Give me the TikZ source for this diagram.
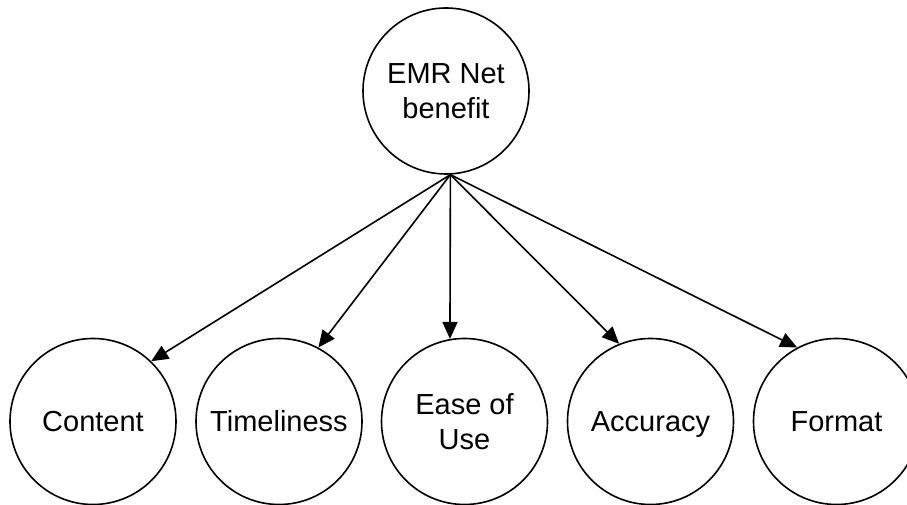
\documentclass[tikz,border=0pt]{standalone}
\usepackage{fontspec}
\setmainfont{Liberation Sans}
\usetikzlibrary{arrows.meta}
\begin{document}
\begin{tikzpicture}[x=1bp,y=1bp,
  circ/.style={circle,draw,line width=1.6bp,minimum size=166bp,inner sep=0pt,align=center,font=\fontsize{29bp}{35bp}\selectfont},
  conn/.style={line width=1.6bp,-{Triangle[length=17bp,width=15bp]}}]
\useasboundingbox (0,0) rectangle (907,505);
\node[circ] (top) at (446,414) {EMR Net\\benefit};
\node[circ] (content) at (93,83.5) {Content};
\node[circ] (time) at (279,83.5) {Timeliness};
\node[circ] (ease) at (464.5,83.5) {Ease of\\Use};
\node[circ] (acc) at (650.5,83.5) {Accurac\smash{y}};
\node[circ] (format) at (836.5,83.5) {Format};
\coordinate (apex) at (top.-87);
\draw[conn] (apex) -- (content.46);
\draw[conn] (apex) -- (time.62);
\draw[conn] (apex) -- (ease.100);
\draw[conn] (apex) -- (acc.112);
\draw[conn] (apex) -- (format.118);
\end{tikzpicture}
\end{document}
